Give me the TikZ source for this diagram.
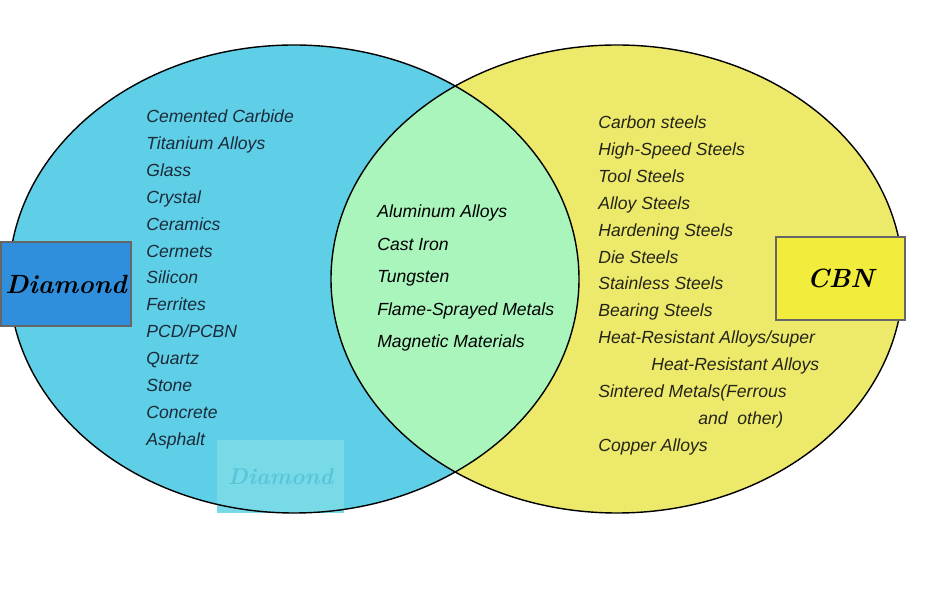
\documentclass[tikz,border=0pt]{standalone}
\usepackage{fontspec}
\setsansfont{Liberation Sans}
\definecolor{diamondcyan}{HTML}{5ECFE6}
\definecolor{cbnyellow}{HTML}{EDE96A}
\definecolor{bothgreen}{HTML}{A9F5BC}
\definecolor{diamondblue}{HTML}{2F8FDC}
\definecolor{cbnbox}{HTML}{F2EC3C}
\definecolor{markcyan}{HTML}{78D9E7}
\definecolor{leftink}{HTML}{1C2A3A}
\definecolor{rightink}{HTML}{24241A}
\tikzset{
  listitem/.style = {anchor = base west, inner sep = 0, font = \sffamily\itshape\fontsize{10}{12}\selectfont},
  titlebox/.style = {draw = black!60, line width = 0.6pt, inner sep = 1pt, font = \bfseries\itshape\fontsize{15}{18}\selectfont},
}
\begin{document}
\begin{tikzpicture}[x = 0.02cm, y = -0.02cm]
  \useasboundingbox (0, 0) rectangle (931, 594);
  % the two sets and their overlap
  \fill[diamondcyan] (294, 279) ellipse [x radius = 285, y radius = 234];
  \fill[cbnyellow] (617, 279) ellipse [x radius = 286, y radius = 234];
  \begin{scope}
    \clip (294, 279) ellipse [x radius = 285, y radius = 234];
    \fill[bothgreen] (617, 279) ellipse [x radius = 286, y radius = 234];
  \end{scope}
  % faint mark
  \node (mark) at (280.5, 476.5) [fill = markcyan, minimum width = 2.54cm, minimum height = 1.46cm, text = diamondcyan!95!black, font = \bfseries\itshape\fontsize{13}{15}\selectfont] {Diamond};
  \draw[line width = 0.8pt] (294, 279) ellipse [x radius = 285, y radius = 234];
  \draw[line width = 0.8pt] (617, 279) ellipse [x radius = 286, y radius = 234];
  % titles
  \node (diamond) at (66, 284) [titlebox, fill = diamondblue, minimum width = 2.6cm, minimum height = 1.68cm] {Diamond};
  \node (cbn) at (840.5, 278.5) [titlebox, fill = cbnbox, minimum width = 2.58cm, minimum height = 1.66cm] {CBN};
  % diamond only
  \node (d1) at (146, 123) [listitem, text = leftink] {Cemented Carbide};
  \node (d2) at (146, 150) [listitem, text = leftink] {Titanium Alloys};
  \node (d3) at (146, 177) [listitem, text = leftink] {Glass};
  \node (d4) at (146, 204) [listitem, text = leftink] {Crystal};
  \node (d5) at (146, 231) [listitem, text = leftink] {Ceramics};
  \node (d6) at (146, 258) [listitem, text = leftink] {Cermets};
  \node (d7) at (146, 284) [listitem, text = leftink] {Silicon};
  \node (d8) at (146, 311) [listitem, text = leftink] {Ferrites};
  \node (d9) at (146, 338) [listitem, text = leftink] {PCD/PCBN};
  \node (d10) at (146, 365) [listitem, text = leftink] {Quartz};
  \node (d11) at (146, 392) [listitem, text = leftink] {Stone};
  \node (d12) at (146, 419) [listitem, text = leftink] {Concrete};
  \node (d13) at (146, 446) [listitem, text = leftink] {Asphalt};
  % both
  \node (b1) at (377, 218) [listitem, text = black] {Aluminum Alloys};
  \node (b2) at (377, 250.5) [listitem, text = black] {Cast Iron};
  \node (b3) at (377, 283) [listitem, text = black] {Tungsten};
  \node (b4) at (377, 315.5) [listitem, text = black] {Flame-Sprayed Metals};
  \node (b5) at (377, 348) [listitem, text = black] {Magnetic Materials};
  % cbn only
  \node (c1) at (598, 129) [listitem, text = rightink] {Carbon steels};
  \node (c2) at (598, 156) [listitem, text = rightink] {High-Speed Steels};
  \node (c3) at (598, 183) [listitem, text = rightink] {Tool Steels};
  \node (c4) at (598, 210) [listitem, text = rightink] {Alloy Steels};
  \node (c5) at (598, 237) [listitem, text = rightink] {Hardening Steels};
  \node (c6) at (598, 264) [listitem, text = rightink] {Die Steels};
  \node (c7) at (598, 290) [listitem, text = rightink] {Stainless Steels};
  \node (c8) at (598, 317) [listitem, text = rightink] {Bearing Steels};
  \node (c9) at (598, 344) [listitem, text = rightink] {Heat-Resistant Alloys/super};
  \node (c10) at (651, 371) [listitem, text = rightink] {Heat-Resistant Alloys};
  \node (c11) at (598, 398) [listitem, text = rightink] {Sintered Metals(Ferrous};
  \node (c12) at (698, 425) [listitem, text = rightink] {and\ \ other)};
  \node (c13) at (598, 452) [listitem, text = rightink] {Copper Alloys};
\end{tikzpicture}
\end{document}
